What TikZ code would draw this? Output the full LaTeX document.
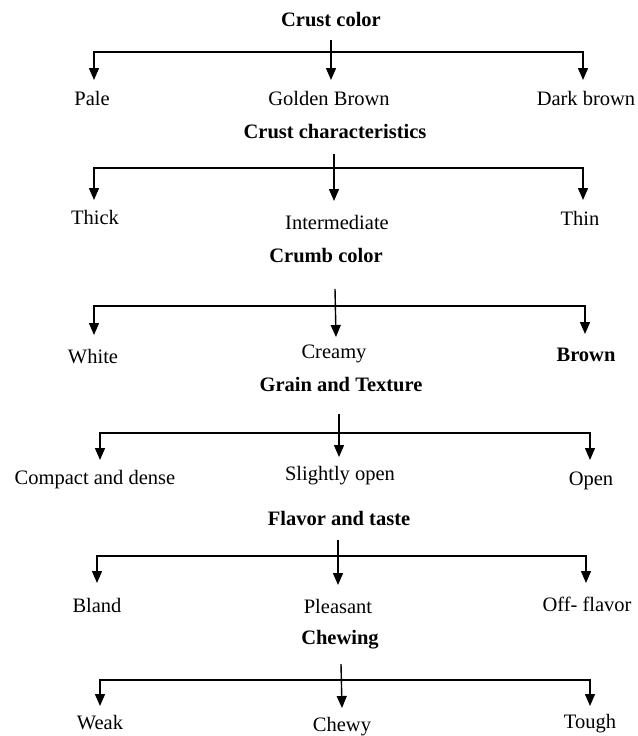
\documentclass[tikz,border=0pt]{standalone}
\usepackage{fontspec}
\setmainfont{Liberation Serif}
\usetikzlibrary{arrows.meta}
\begin{document}
\begin{tikzpicture}[x=1pt,y=-1pt,
  ttl/.style={font=\fontsize{20.5}{23}\selectfont\bfseries,inner sep=0pt},
  lbl/.style={font=\fontsize{20.5}{23}\selectfont,inner sep=0pt},
  conn/.style={line width=1.4pt,line join=miter},
  tip/.style={-{Triangle[width=10pt,length=12pt]}},
  tips/.style={{Triangle[width=10pt,length=12pt]}-{Triangle[width=10pt,length=12pt]}}]
\useasboundingbox[fill=white] (0,0) rectangle (637,736);
% Block 1
\node[ttl] (t1) at (331,20) {Crust color};
\coordinate (s1) at (331,40);
\coordinate (h1L) at (94,52); \coordinate (h1R) at (583,52);
\coordinate (a1L) at (94,80); \coordinate (a1C) at (331,80); \coordinate (a1R) at (583,80);
\node[lbl] (l11) at (92,98) {Pale};
\node[lbl] (l12) at (329,98) {Golden Brown};
\node[lbl] (l13) at (586,98) {Dark brown};
\draw[conn,tips] (a1L) -- (h1L) -- (h1R) -- (a1R);
\draw[conn,tip] (s1) -- (a1C);
% Block 2
\node[ttl] (t2) at (335,132) {Crust characteristics};
\coordinate (s2) at (334,154);
\coordinate (h2L) at (94,168); \coordinate (h2R) at (583,168);
\coordinate (a2L) at (94,200); \coordinate (a2C) at (334,201); \coordinate (a2R) at (583,200);
\node[lbl] (l21) at (95,217) {Thick};
\node[lbl] (l22) at (337,222) {Intermediate};
\node[lbl] (l23) at (580,218) {Thin};
\draw[conn,tips] (a2L) -- (h2L) -- (h2R) -- (a2R);
\draw[conn,tip] (s2) -- (a2C);
% Block 3
\node[ttl] (t3) at (326,256) {Crumb color};
\coordinate (s3) at (335,289);
\coordinate (h3L) at (94,306); \coordinate (h3R) at (585,306);
\coordinate (a3L) at (94,335); \coordinate (a3C) at (336,337); \coordinate (a3R) at (585,334);
\node[lbl] (l31) at (93,357) {White};
\node[lbl] (l32) at (334,354) {Creamy};
\node[lbl] (l33) at (586,355) {\bfseries Brown};
\draw[conn,tips] (a3L) -- (h3L) -- (h3R) -- (a3R);
\draw[conn,tip] (s3) -- (a3C);
% Block 4
\node[ttl] (t4) at (341,385) {Grain and Texture};
\coordinate (s4) at (339,414);
\coordinate (h4L) at (100,433); \coordinate (h4R) at (590,433);
\coordinate (a4L) at (100,460); \coordinate (a4C) at (339,457); \coordinate (a4R) at (590,460);
\node[lbl] (l41) at (95,480) {Compact and dense};
\node[lbl] (l42) at (340,476) {Slightly open};
\node[lbl] (l43) at (591,481) {Open};
\draw[conn,tips] (a4L) -- (h4L) -- (h4R) -- (a4R);
\draw[conn,tip] (s4) -- (a4C);
% Block 5
\node[ttl] (t5) at (339,518) {Flavor and taste};
\coordinate (s5) at (338,540);
\coordinate (h5L) at (97,556); \coordinate (h5R) at (586,556);
\coordinate (a5L) at (97,583); \coordinate (a5C) at (338,585); \coordinate (a5R) at (586,583);
\node[lbl] (l51) at (97,605) {Bland};
\node[lbl] (l52) at (338,606) {Pleasant};
\node[lbl] (l53) at (587,604) {Off- flavor};
\draw[conn,tips] (a5L) -- (h5L) -- (h5R) -- (a5R);
\draw[conn,tip] (s5) -- (a5C);
% Block 6
\node[ttl] (t6) at (340,640) {Chewing};
\coordinate (s6) at (341,664);
\coordinate (h6L) at (100,680); \coordinate (h6R) at (590,680);
\coordinate (a6L) at (100,706); \coordinate (a6C) at (342,708); \coordinate (a6R) at (590,706);
\node[lbl] (l61) at (100,723) {Weak};
\node[lbl] (l62) at (342,727) {Chewy};
\node[lbl] (l63) at (590,724) {Tough};
\draw[conn,tips] (a6L) -- (h6L) -- (h6R) -- (a6R);
\draw[conn,tip] (s6) -- (a6C);
\end{tikzpicture}
\end{document}
